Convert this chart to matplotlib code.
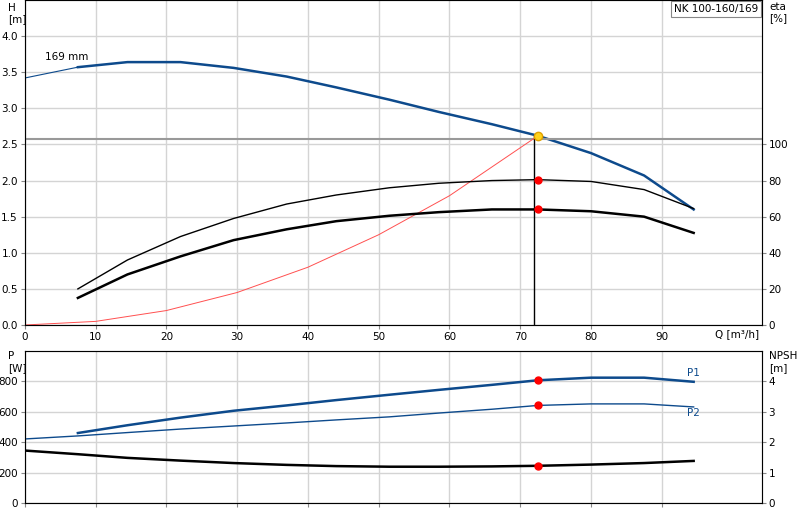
import matplotlib
matplotlib.use("Agg")
import matplotlib.pyplot as plt

q = [7.5, 14.5, 22, 29.5, 37, 44, 51.5, 58.5, 66, 72.5, 80, 87.5, 94.5]
h = [3.57, 3.64, 3.64, 3.56, 3.44, 3.29, 3.12, 2.95, 2.78, 2.62, 2.38, 2.07, 1.60]
h_ext_q = [0, 7.5]
h_ext = [3.42, 3.57]
eta_a = [20, 36, 49, 59, 67, 72, 76, 78.5, 80, 80.5, 79.5, 75, 64.5]
eta_b = [15, 28, 38, 47, 53, 57.5, 60.5, 62.5, 64, 64, 63, 60, 51]
sys_q = [0, 10, 20, 30, 40, 50, 60, 72.5]
sys_h = [0, 0.05, 0.2, 0.45, 0.8, 1.25, 1.79, 2.62]
p1 = [459, 510, 560, 605, 640, 675, 710, 742, 775, 805, 822, 822, 795]
p2_q = [0] + q
p2 = [420, 440, 462, 485, 505, 525, 545, 565, 590, 615, 640, 650, 650, 630]
npsh_q = [0] + q
npsh = [1.72, 1.6, 1.48, 1.39, 1.31, 1.25, 1.21, 1.19, 1.19, 1.2, 1.22, 1.26, 1.31, 1.38]
op_q, op_h, op_eta_a, op_eta_b, op_p1, op_p2, op_npsh = 72.5, 2.62, 80.5, 64, 805, 640, 1.22

plt.rcParams['font.family'] = 'DejaVu Sans'
plt.rcParams['font.size'] = 7.5
fig = plt.figure(figsize=(8, 5.2), dpi=100)
W = 0.921
ax = fig.add_axes([0.031, 0.375, W, 0.625])
ax2 = ax.twinx()
bx = fig.add_axes([0.031, 0.0327, W, 0.2923])
bx2 = bx.twinx()
blue = '#0d4a8c'
grid = '#d4d4d4'
xmax = 104.1

for a in (ax, bx):
    a.set_xlim(0, xmax)
    a.set_xticks(range(0, 100, 10))
    a.grid(True, color=grid, lw=1)
    a.set_axisbelow(True)
    for s in a.spines.values():
        s.set_color('#888888')
    a.tick_params(length=3, pad=2, color='#888888')
ax.set_ylim(0, 4.5)
ax.set_yticks([0, 0.5, 1, 1.5, 2, 2.5, 3, 3.5, 4])
ax.set_yticklabels(['0.0', '0.5', '1.0', '1.5', '2.0', '2.5', '3.0', '3.5', '4.0'])
ax2.set_ylim(0, 180)
ax2.set_yticks(range(0, 101, 20))
ax2.tick_params(length=3, pad=2, color='#888888')
bx.set_ylim(0, 997)
bx.set_yticks(range(0, 801, 200))
bx.set_xticklabels([])
bx2.set_ylim(0, 997 / 200)
bx2.set_yticks(range(0, 5))
bx2.tick_params(length=3, pad=2, color='#888888')

ax.plot(h_ext_q, h_ext, color=blue, lw=0.8)
ax.plot(q, h, color=blue, lw=1.8)
ax.axhline(2.57, color='#999999', lw=1.5)
ax.axvline(72.0, ymax=2.62 / 4.5, color='black', lw=1)
ax.plot(sys_q, sys_h, color='#ff5050', lw=0.7)
ax2.plot(q, eta_a, color='black', lw=1)
ax2.plot(q, eta_b, color='black', lw=1.8)
ax2.plot([op_q, op_q], [op_eta_a, op_eta_b], 'o', color='red', ms=5, zorder=5)
ax.plot(op_q, op_h, 'o', color='#ffd21e', mec='#e0a000', ms=6, zorder=6)
ax.text(2.8, 3.67, '169 mm', fontsize=7.5)
fig.text(0.01, 0.995, 'H\n[m]', ha='left', va='top', fontsize=7.5, linespacing=1.2)
ax.text(1.01, 0.995, 'eta\n[%]', transform=ax.transAxes, ha='left', va='top', fontsize=7.5, linespacing=1.2)
ax.text(103.8, -0.06, 'Q [m³/h]', ha='right', va='top', fontsize=7.5)
ax.text(103.6, 4.44, 'NK 100-160/169', ha='right', va='top', fontsize=7.5,
        bbox=dict(boxstyle='square,pad=0.3', fc='white', ec='#888888', lw=0.8))

bx.plot(q, p1, color=blue, lw=1.8)
bx.plot(p2_q, p2, color=blue, lw=1)
bx2.plot(npsh_q, npsh, color='black', lw=1.8)
bx.plot([op_q, op_q], [op_p1, op_p2], 'o', color='red', ms=5, zorder=5)
bx2.plot(op_q, op_npsh, 'o', color='red', ms=5, zorder=5)
bx.text(93.5, 830, 'P1', color=blue, fontsize=7.5)
bx.text(93.5, 570, 'P2', color=blue, fontsize=7.5)
fig.text(0.01, 0.325, 'P\n[W]', ha='left', va='top', fontsize=7.5, linespacing=1.2)
bx.text(1.01, 1.0, 'NPSH\n[m]', transform=bx.transAxes, ha='left', va='top', fontsize=7.5, linespacing=1.2)

fig.savefig('out.png', dpi=100)
